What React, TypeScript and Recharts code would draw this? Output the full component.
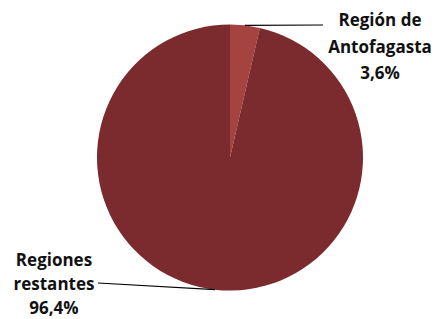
import { Pie, PieChart, Cell } from "recharts";

const REGION_NAMES = ["Región de Antofagasta", "Regiones restantes"];
const REGION_LINES = [["Región de", "Antofagasta"], ["Regiones", "restantes"]];
const SHARE_PCT = [3.6, 96.4];

const SLICE_COLORS = ["#A4433F", "#7B2B2D"];
const TEXT_COLOR = "#111";
const FONT = "'Open Sans', 'Liberation Sans', sans-serif";

// where each leader line ends and where its label block sits
const LABEL_LAYOUT = [
  { lineEndX: 323, lineEndY: 25, textX: 380, firstBaseline: 26, lineHeight: 26.5 },
  { lineEndX: 98, lineEndY: 283, textX: 54, firstBaseline: 266, lineHeight: 24 },
];

const chartData = REGION_NAMES.map((name, i) => ({
  name,
  value: SHARE_PCT[i],
}));

const RADIAN = Math.PI / 180;

function formatPct(v: number) {
  return `${v.toFixed(1).replace(".", ",")}%`;
}

function SliceLabel(props: any) {
  const { cx, cy, midAngle, outerRadius, index, value } = props;
  const layout = LABEL_LAYOUT[index];
  const sx = cx + outerRadius * Math.cos(-midAngle * RADIAN);
  const sy = cy + outerRadius * Math.sin(-midAngle * RADIAN);
  const lines = [...REGION_LINES[index], formatPct(value)];

  return (
    <g>
      <line
        x1={sx}
        y1={sy}
        x2={layout.lineEndX}
        y2={layout.lineEndY}
        stroke="#000"
        strokeWidth={1.2}
      />
      <text
        textAnchor="middle"
        fill={TEXT_COLOR}
        fontFamily={FONT}
        fontWeight={700}
        fontSize={17}
      >
        {lines.map((ln, k) => (
          <tspan
            key={k}
            x={layout.textX}
            y={layout.firstBaseline + k * layout.lineHeight}
          >
            {ln}
          </tspan>
        ))}
      </text>
    </g>
  );
}

export default function App() {
  return (
    <div style={{ position: "absolute", left: 0, top: 0, background: "#fff" }}>
      <PieChart width={436} height={319}>
        <Pie
          data={chartData}
          dataKey="value"
          nameKey="name"
          cx={225}
          cy={152.5}
          outerRadius={133}
          startAngle={90}
          endAngle={-270}
          stroke="none"
          label={SliceLabel}
          labelLine={false}
          isAnimationActive={false}
        >
          {chartData.map((_, i) => (
            <Cell key={i} fill={SLICE_COLORS[i]} />
          ))}
        </Pie>
      </PieChart>
    </div>
  );
}
